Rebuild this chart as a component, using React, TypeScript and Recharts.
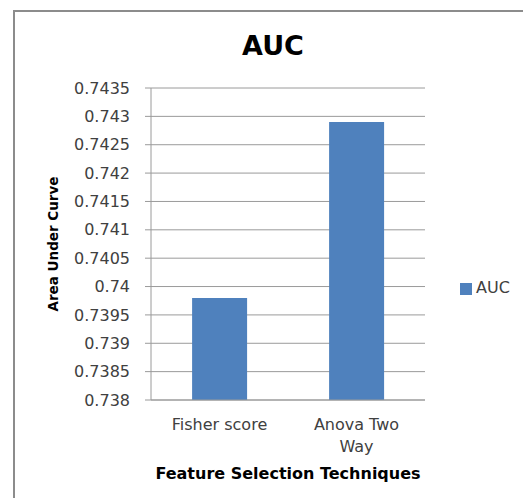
import { Bar, BarChart, CartesianGrid, Legend, XAxis, YAxis } from "recharts";

const techniques = ["Fisher score", "Anova Two Way"];
const aucValues = [0.7398, 0.7429];
const yTicks = [0.738, 0.7385, 0.739, 0.7395, 0.74, 0.7405, 0.741, 0.7415, 0.742, 0.7425, 0.743, 0.7435];

const data = techniques.map((name, i) => ({ name, AUC: aucValues[i] }));

const FONT = "'DejaVu Sans', sans-serif";
const GRID = "#9a9a9a";
const TEXT = "#404040";

// long category names break at the last space onto a second line
function wrapLabel(s: string): string[] {
  if (s.length <= 12) return [s];
  const cut = s.lastIndexOf(" ");
  return [s.slice(0, cut), s.slice(cut + 1)];
}

function CategoryTick(props: any) {
  const { x, y, payload } = props;
  const lines = wrapLabel(String(payload.value));
  return (
    <text x={x} y={y} textAnchor="middle" fontFamily={FONT} fontSize={16} fill={TEXT}>
      {lines.map((line, i) => (
        <tspan key={i} x={x} dy={i === 0 ? 12 : 22}>
          {line}
        </tspan>
      ))}
    </text>
  );
}

function YTitle(props: any) {
  const { viewBox } = props;
  const x = 53;
  const y = viewBox.y + viewBox.height / 2;
  return (
    <text
      x={x}
      y={y}
      transform={`rotate(-90 ${x} ${y})`}
      textAnchor="middle"
      dominantBaseline="central"
      fontFamily={FONT}
      fontWeight="bold"
      fontSize={13.5}
      fill="#000"
    >
      Area Under Curve
    </text>
  );
}

function XTitle(props: any) {
  const { viewBox } = props;
  return (
    <text
      x={viewBox.x + viewBox.width / 2}
      y={479}
      textAnchor="middle"
      fontFamily={FONT}
      fontWeight="bold"
      fontSize={16}
      fill="#000"
    >
      Feature Selection Techniques
    </text>
  );
}

export default function App() {
  return (
    <div style={{ position: "absolute", left: 0, top: 0, width: 523, height: 498, overflow: "hidden", background: "#fff" }}>
      <div
        style={{
          position: "absolute",
          left: 13,
          top: 10,
          width: 600,
          height: 600,
          border: "2px solid #8c8c8c",
          boxSizing: "border-box",
        }}
      />
      <div
        style={{
          position: "absolute",
          left: 0,
          top: 32,
          width: 546,
          textAlign: "center",
          fontFamily: FONT,
          fontWeight: "bold",
          fontSize: 27,
          lineHeight: "27px",
          color: "#000",
        }}
      >
        AUC
      </div>
      <BarChart
        width={523}
        height={498}
        data={data}
        margin={{ top: 88, right: 98, left: 0, bottom: 0 }}
        barCategoryGap="30%"
        style={{ position: "absolute", left: 0, top: 0 }}
      >
        <CartesianGrid vertical={false} stroke={GRID} />
        <XAxis
          dataKey="name"
          height={98}
          interval={0}
          tickLine={false}
          tickSize={0}
          tickMargin={18}
          axisLine={{ stroke: GRID }}
          tick={<CategoryTick />}
          label={<XTitle />}
        />
        <YAxis
          width={151}
          domain={[0.738, 0.7435]}
          ticks={yTicks}
          interval={0}
          tickSize={6}
          tickMargin={15}
          tickLine={{ stroke: GRID }}
          axisLine={{ stroke: GRID }}
          tick={{ fontFamily: FONT, fontSize: 16, fill: TEXT }}
          label={<YTitle />}
        />
        <Legend
          layout="horizontal"
          align="center"
          verticalAlign="middle"
          iconType="square"
          iconSize={12}
          wrapperStyle={{ left: 455, top: 278, width: 70, fontFamily: FONT, fontSize: 16 }}
          formatter={(value: string) => <span style={{ color: TEXT }}>{value}</span>}
        />
        <Bar dataKey="AUC" fill="#4f81bd" isAnimationActive={false} />
      </BarChart>
    </div>
  );
}
